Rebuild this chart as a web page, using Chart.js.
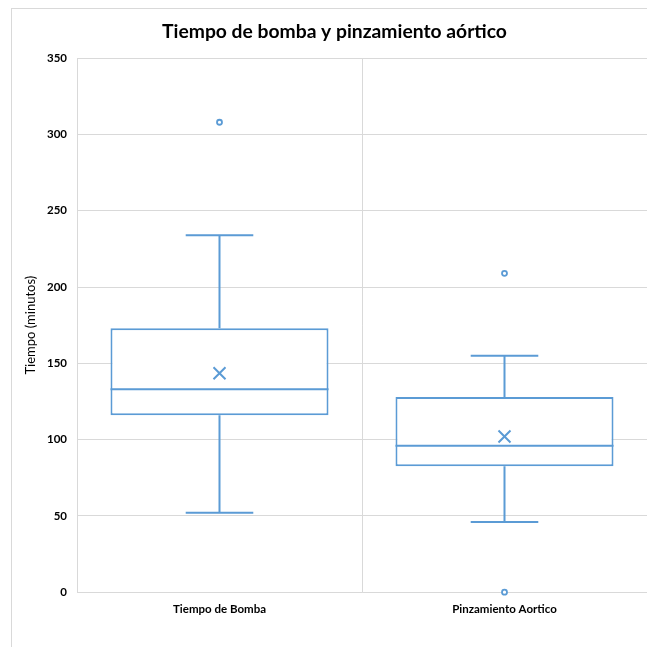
<!DOCTYPE html>
<html>
<head>
<meta charset="utf-8">
<title>Tiempo de bomba y pinzamiento aórtico</title>
<script src="https://cdn.jsdelivr.net/npm/chart.js@4.4.1/dist/chart.umd.min.js"></script>
<style>
  html, body { margin: 0; padding: 0; background: #fff; }
  canvas { display: block; }
</style>
</head>
<body>
<canvas id="boxChart" width="647" height="647"></canvas>
<script>
// Datos del diagrama de caja
const categories = ['Tiempo de Bomba', 'Pinzamiento Aortico'];
const minVals    = [52, 46];
const q1Vals     = [116, 82.5];
const medianVals = [133, 96];
const q3Vals     = [173, 128];
const maxVals    = [234, 155];
const meanVals   = [143.5, 102];
const outliers   = [[308], [209, 0]];
const yTicks     = [0, 50, 100, 150, 200, 250, 300, 350];

const BLUE = '#5B9BD5';
const GRID = '#d9d9d9';
const FONT = 'Lato, "Open Sans", "Liberation Sans", sans-serif';

// Puntos atípicos: un dataset por posición
const maxOut = Math.max(...outliers.map(o => o.length));
const outlierSets = [];
for (let k = 0; k < maxOut; k++) {
    outlierSets.push({
        type: 'line',
        label: 'atípicos ' + k,
        data: outliers.map(o => (o[k] !== undefined ? o[k] : null)),
        showLine: false,
        pointStyle: 'circle',
        pointRadius: 2.5,
        pointBorderWidth: 1.8,
        pointBorderColor: BLUE,
        pointBackgroundColor: '#fff',
        clip: false
    });
}

// Bigotes, mediana y marco exterior
const boxPlugin = {
    id: 'boxExtras',
    beforeDraw(chart) {
        const ctx = chart.ctx;
        ctx.save();
        ctx.strokeStyle = GRID;
        ctx.lineWidth = 1;
        ctx.strokeRect(11.5, 8.5, chart.width + 20, chart.height + 20);
        ctx.restore();
    },
    afterDatasetsDraw(chart) {
        const ctx = chart.ctx;
        const y = chart.scales.y;
        const bars = chart.getDatasetMeta(0).data;
        ctx.save();
        ctx.strokeStyle = BLUE;
        ctx.lineWidth = 2;
        bars.forEach((bar, i) => {
            const x = bar.x;
            const half = bar.width / 2;
            const cap = bar.width * 0.155;
            ctx.beginPath();
            // mediana
            ctx.moveTo(x - half, y.getPixelForValue(medianVals[i]));
            ctx.lineTo(x + half, y.getPixelForValue(medianVals[i]));
            // bigote superior
            ctx.moveTo(x, y.getPixelForValue(q3Vals[i]));
            ctx.lineTo(x, y.getPixelForValue(maxVals[i]));
            ctx.moveTo(x - cap, y.getPixelForValue(maxVals[i]));
            ctx.lineTo(x + cap, y.getPixelForValue(maxVals[i]));
            // bigote inferior
            ctx.moveTo(x, y.getPixelForValue(q1Vals[i]));
            ctx.lineTo(x, y.getPixelForValue(minVals[i]));
            ctx.moveTo(x - cap, y.getPixelForValue(minVals[i]));
            ctx.lineTo(x + cap, y.getPixelForValue(minVals[i]));
            ctx.stroke();
        });
        ctx.restore();
    }
};

new Chart(document.getElementById('boxChart'), {
    type: 'bar',
    data: {
        labels: categories,
        datasets: [
            {
                label: 'caja',
                data: categories.map((c, i) => [q1Vals[i], q3Vals[i]]),
                backgroundColor: '#fff',
                borderColor: BLUE,
                borderWidth: 2,
                borderSkipped: false,
                categoryPercentage: 0.765,
                barPercentage: 1,
                order: 2
            },
            {
                type: 'line',
                label: 'media',
                data: meanVals,
                showLine: false,
                pointStyle: 'crossRot',
                pointRadius: 8.5,
                pointBorderWidth: 2,
                pointBorderColor: BLUE,
                order: 1
            },
            ...outlierSets
        ]
    },
    options: {
        responsive: false,
        animation: false,
        layout: { autoPadding: false, padding: { left: 22, right: 0, top: 17, bottom: 21 } },
        plugins: {
            legend: { display: false },
            tooltip: { enabled: false },
            title: {
                display: true,
                text: 'Tiempo de bomba y pinzamiento aórtico',
                color: '#000',
                font: { family: FONT, size: 19.3, weight: 'bold' },
                padding: { top: 3, bottom: 15 }
            }
        },
        scales: {
            x: {
                grid: { color: GRID, drawTicks: false, offset: true },
                border: { color: GRID },
                ticks: {
                    color: '#000',
                    padding: 10,
                    font: { family: FONT, size: 11.5, weight: 'bold' }
                }
            },
            y: {
                min: 0,
                max: 350,
                afterBuildTicks(scale) {
                    scale.ticks = yTicks.map(v => ({ value: v }));
                },
                afterFit(scale) { scale.width = 55; },
                grid: { color: GRID, drawTicks: false },
                border: { color: GRID },
                ticks: {
                    color: '#000',
                    padding: 10,
                    font: { family: FONT, size: 11.5, weight: 'bold' }
                },
                title: {
                    display: true,
                    text: 'Tiempo (minutos)',
                    color: '#000',
                    font: { family: FONT, size: 13 },
                    padding: { top: 1, bottom: 0 }
                }
            }
        }
    },
    plugins: [boxPlugin]
});
</script>
</body>
</html>
